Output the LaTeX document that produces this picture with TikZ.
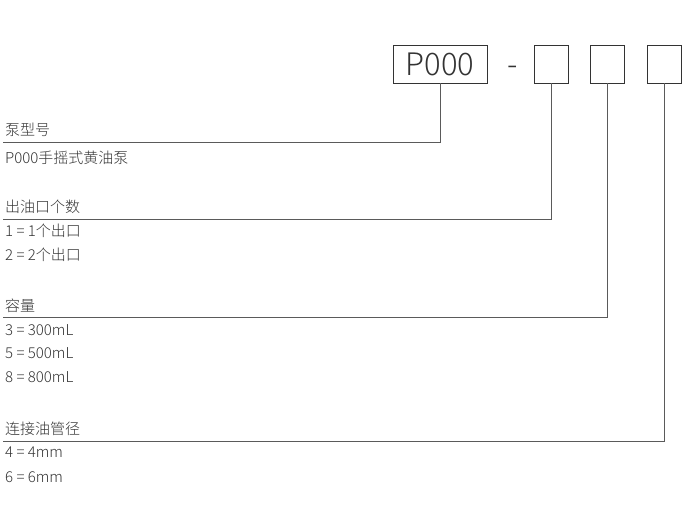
\documentclass[tikz,border=0pt]{standalone}
\usepackage{fontspec}
\setmainfont{Noto Sans CJK SC}[UprightFont=* Light]
\usepackage{xcolor}
\usetikzlibrary{positioning,calc}
\definecolor{ink}{RGB}{51,51,51}
\definecolor{wire}{RGB}{90,90,90}
\tikzset{
  codebox/.style={draw=ink,line width=0.8pt,minimum height=38pt,inner sep=0pt},
  lbl/.style={anchor=base west,inner sep=0pt,text=ink,font=\fontsize{15}{18}\selectfont},
  leader/.style={draw=wire,line width=0.9pt}
}
\begin{document}
\begin{tikzpicture}[x=1pt,y=-1pt]
\useasboundingbox (0,0) rectangle (685,522);
% code boxes
\node[codebox,minimum width=94pt,text=ink,font=\fontsize{31}{36}\selectfont] (pump) at (440,64) {P000};
\node[anchor=base,inner sep=0pt,text=ink,font=\fontsize{31}{36}\selectfont] (dash) at (513,75) {-};
\node[codebox,minimum width=34pt] (outlet) at (551,64) {};
\node[codebox,minimum width=34pt] (vol) at (607.5,64) {};
\node[codebox,minimum width=34pt] (pipe) at (664.5,64) {};
% leader ends
\coordinate (e1) at (3,142);
\coordinate (e2) at (3,219);
\coordinate (e3) at (3,317);
\coordinate (e4) at (3,441);
\draw[leader] (pump.south) |- (e1);
\draw[leader] (outlet.south) |- (e2);
\draw[leader] (vol.south) |- (e3);
\draw[leader] (pipe.south) |- (e4);
% pump type
\node[lbl] (t1) at (5,135) {泵型号};
\node[lbl] (t1a) at (5,163) {P000手摇式黄油泵};
% outlets
\node[lbl] (t2) at (5,212) {出油口个数};
\node[lbl] (t2a) at (5,236) {1 = 1个出口};
\node[lbl] (t2b) at (5,260) {2 = 2个出口};
% volume
\node[lbl] (t3) at (5,311) {容量};
\node[lbl] (t3a) at (5,335) {3 = 300mL};
\node[lbl] (t3b) at (5,358) {5 = 500mL};
\node[lbl] (t3c) at (5,382) {8 = 800mL};
% pipe size
\node[lbl] (t4) at (5,434) {连接油管径};
\node[lbl] (t4a) at (5,457) {4 = 4mm};
\node[lbl] (t4b) at (5,482) {6 = 6mm};
\end{tikzpicture}
\end{document}
